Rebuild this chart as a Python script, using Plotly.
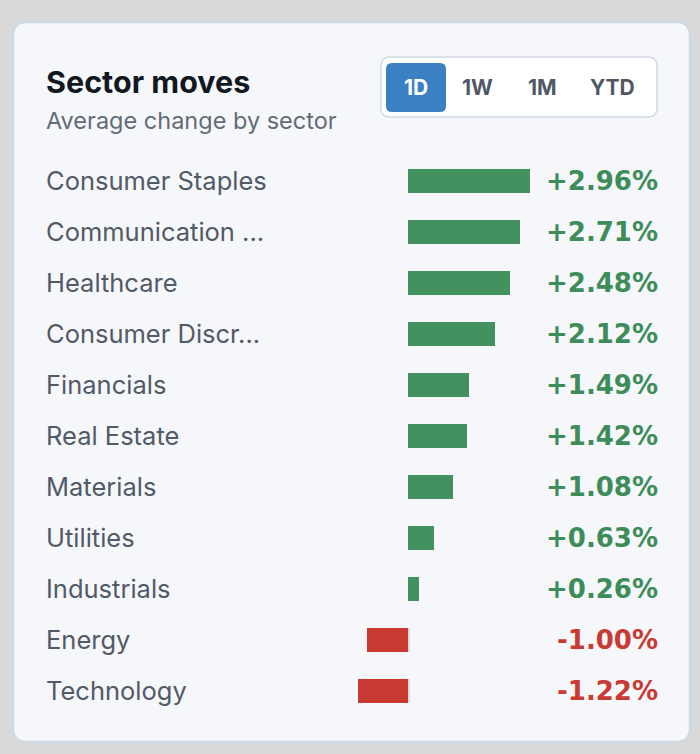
import plotly.graph_objects as go

# ---- data ----
sectors = ["Consumer Staples", "Communication ...", "Healthcare", "Consumer Discr...",
           "Financials", "Real Estate", "Materials", "Utilities", "Industrials",
           "Energy", "Technology"]
changes = [2.96, 2.71, 2.48, 2.12, 1.49, 1.42, 1.08, 0.63, 0.26, -1.00, -1.22]
periods = ["1D", "1W", "1M", "YTD"]
active_period = "1D"
title = "Sector moves"
subtitle = "Average change by sector"

# ---- style ----
W, H = 700, 754
GREEN_BAR = "#43915f"
RED_BAR = "#c93a33"
GREEN_TXT = "#3d8c59"
RED_TXT = "#c83a33"
LABEL_C = "#515a66"
FONT = "Inter"


def px(x):
    return x / W


def py(y):
    return 1 - y / H


def rrect(x0, y0, x1, y1, r):
    pts = [
        f"M {px(x0 + r)} {py(y0)}",
        f"L {px(x1 - r)} {py(y0)}",
        f"Q {px(x1)} {py(y0)} {px(x1)} {py(y0 + r)}",
        f"L {px(x1)} {py(y1 - r)}",
        f"Q {px(x1)} {py(y1)} {px(x1 - r)} {py(y1)}",
        f"L {px(x0 + r)} {py(y1)}",
        f"Q {px(x0)} {py(y1)} {px(x0)} {py(y1 - r)}",
        f"L {px(x0)} {py(y0 + r)}",
        f"Q {px(x0)} {py(y0)} {px(x0 + r)} {py(y0)}",
        "Z",
    ]
    return " ".join(pts)


colors = [GREEN_BAR if v >= 0 else RED_BAR for v in changes]

fig = go.Figure()
# zero tick marks (thin gray at base of each row)
fig.add_trace(go.Bar(y=sectors, x=[0.05] * len(sectors), base=0, orientation="h",
                     marker=dict(color="#d3dbe4", line=dict(width=0)),
                     width=0.47, hoverinfo="skip", showlegend=False))
fig.add_trace(go.Bar(y=sectors, x=changes, orientation="h",
                     marker=dict(color=colors, line=dict(width=0)),
                     width=0.47, hoverinfo="skip", showlegend=False))

# axis mapping: zero at px 408, 41.2 px per %
zero_px, scale = 408, 41.2
dom_x0, dom_x1 = 340, 560
row0, step = 181, 51
n = len(sectors)
top_px = row0 - step / 2
bot_px = row0 + step * (n - 1) + step / 2
LEFT = 44  # text left edge compensating annotation padding

shapes = [
    dict(type="path", xref="paper", yref="paper", path=rrect(13, 22, 690, 742, 14),
         fillcolor="#f6f7fa", line=dict(color="#cdd9e3", width=2.5), layer="below"),
    dict(type="path", xref="paper", yref="paper", path=rrect(381, 57, 657, 117, 9),
         fillcolor="#ffffff", line=dict(color="#d2dae2", width=1.5), layer="below"),
]

annotations = [
    dict(text=f"<b>{title}</b>", x=px(LEFT), y=py(82), xref="paper", yref="paper",
         xanchor="left", yanchor="middle", showarrow=False,
         font=dict(family=FONT, size=30.5, color="#111820")),
    dict(text=subtitle, x=px(LEFT), y=py(121), xref="paper", yref="paper",
         xanchor="left", yanchor="middle", showarrow=False,
         font=dict(family=FONT, size=23.5, color="#626b76")),
]

# segmented period control
btn_centers = [416, 477.5, 542, 612.5]
for p, cx in zip(periods, btn_centers):
    if p == active_period:
        shapes.append(dict(type="path", xref="paper", yref="paper",
                           path=rrect(386, 63, 446, 112, 6),
                           fillcolor="#3c80c4", line=dict(width=0), layer="below"))
    annotations.append(dict(text=f"<b>{p}</b>", x=px(cx), y=py(87), xref="paper",
                            yref="paper", xanchor="center", yanchor="middle",
                            showarrow=False,
                            font=dict(family=FONT, size=21,
                                      color="#ffffff" if p == active_period else "#4f5864")))

for s, v in zip(sectors, changes):
    annotations.append(dict(text=s, x=px(LEFT), y=s, xref="paper", yref="y",
                            xanchor="left", yanchor="middle", showarrow=False, yshift=1,
                            font=dict(family=FONT, size=25.5, color=LABEL_C)))
    annotations.append(dict(text=f"<b>{v:+.2f}%</b>", x=px(660), y=s, xref="paper",
                            yref="y", xanchor="right", yanchor="middle", showarrow=False,
                            font=dict(family="DejaVu Sans", size=26,
                                      color=GREEN_TXT if v >= 0 else RED_TXT)))

fig.update_layout(
    width=W, height=H,
    margin=dict(l=0, r=0, t=0, b=0),
    paper_bgcolor="#d9d9d9",
    plot_bgcolor="rgba(0,0,0,0)",
    barmode="overlay",
    bargap=0,
    xaxis=dict(domain=[px(dom_x0), px(dom_x1)],
               range=[(dom_x0 - zero_px) / scale, (dom_x1 - zero_px) / scale],
               visible=False, fixedrange=True),
    yaxis=dict(domain=[py(bot_px), py(top_px)], range=[n - 0.5, -0.5],
               categoryorder="array", categoryarray=sectors,
               visible=False, fixedrange=True),
    shapes=shapes,
    annotations=annotations,
    showlegend=False,
)

fig.write_html("out.html", config={"displayModeBar": False, "staticPlot": True})
